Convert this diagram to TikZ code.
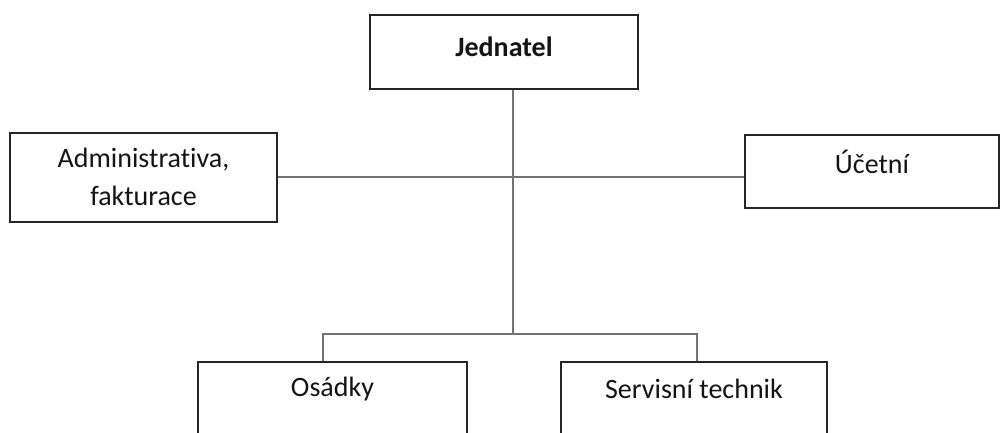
\documentclass[tikz,border=0pt]{standalone}
\usepackage{fontspec}
\setmainfont[Ligatures={NoCommon}]{Carlito}
\begin{document}
\begin{tikzpicture}[x=1pt,y=-1pt,
  box/.style={draw=black!85,line width=2.6pt,fill=white,inner sep=0pt},
  lbl/.style={font=\fontsize{28}{38}\selectfont,text=black!92,align=center,inner sep=0pt},
  conn/.style={draw=black!55,line width=2pt}]
\useasboundingbox (0,0) rectangle (1003,432);
\clip (0,0) rectangle (1003,432);
\fill[white] (0,0) rectangle (1003,432);
% boxes
\node[box,minimum width=268pt,minimum height=74pt] (j) at (504,52) {};
\node[box,minimum width=267pt,minimum height=89pt] (a) at (143.5,177.5) {};
\node[box,minimum width=254pt,minimum height=73pt] (u) at (872,171.5) {};
\node[box,minimum width=269pt,minimum height=80pt] (o) at (332.5,402) {};
\node[box,minimum width=266pt,minimum height=80pt] (s) at (694,402) {};
% connector points
\coordinate (hub) at (513,177);
\coordinate (split) at (513,334);
\coordinate (ol) at (323,334);
\coordinate (sr) at (697,334);
% connectors
\draw[conn] (j.south -| hub) -- (split);
\draw[conn] (a.east |- hub) -- (u.west |- hub);
\draw[conn] (o.north -| ol) -- (ol) -- (sr) -- (s.north -| sr);
% labels
\node[lbl] (jt) at (504,47) {\textbf{Jednatel}};
\node[lbl] (at) at (143.5,177) {Administrativa,\\fakturace};
\node[lbl] (ut) at (872,162) {Účetní};
\node[lbl] (ot) at (332.5,389) {Osádky};
\node[lbl] (st) at (694,389) {Servisní technik};
\end{tikzpicture}
\end{document}
